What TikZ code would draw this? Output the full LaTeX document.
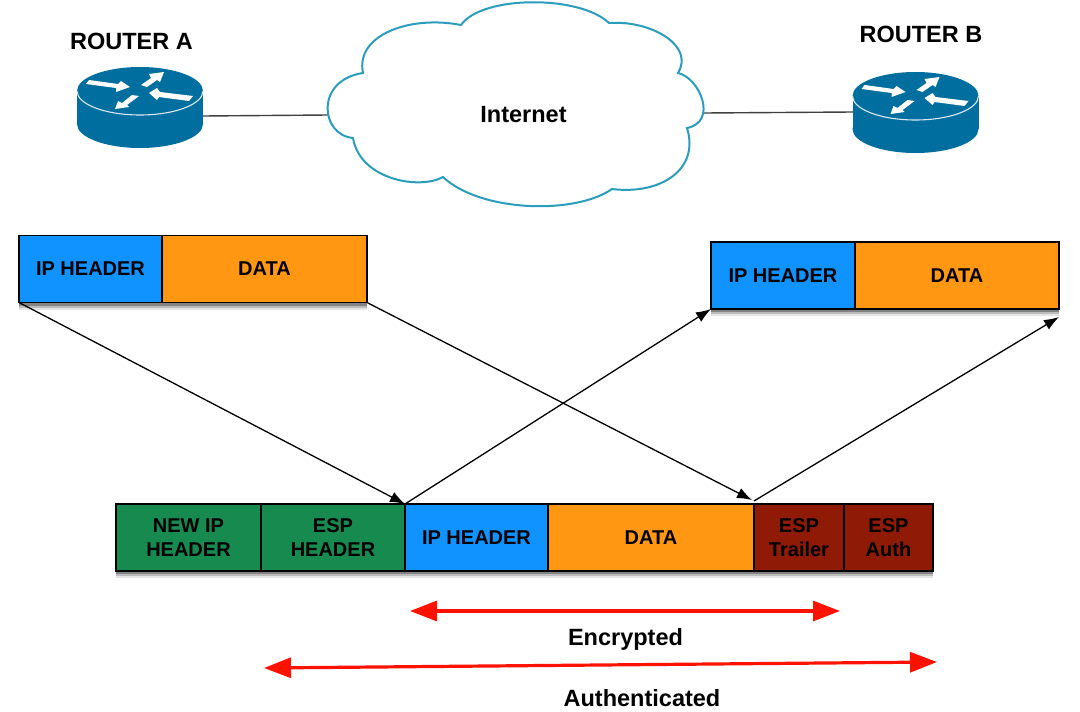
\documentclass[tikz,border=0pt]{standalone}
\usepackage{fontspec}
\setmainfont{Liberation Sans}
\usepackage{xcolor}
\usetikzlibrary{arrows.meta, shadows}

\definecolor{ipblue}{HTML}{1093FF}
\definecolor{dataorange}{HTML}{FF9712}
\definecolor{espgreen}{HTML}{178A50}
\definecolor{espred}{HTML}{8F1A06}
\definecolor{routerblue}{HTML}{006F9F}
\definecolor{cloudline}{HTML}{2A9DBD}
\definecolor{linkgray}{HTML}{404040}

\tikzset{
    pktbox/.style={draw=black, line width=1.8pt, minimum height=67pt, inner sep=0pt, outer sep=0pt,
        align=center, font=\fontsize{20}{24}\selectfont\bfseries,
        drop shadow={shadow xshift=0pt, shadow yshift=-7pt, opacity=0.10, fill=black},
        drop shadow={shadow xshift=0pt, shadow yshift=-5pt, opacity=0.18, fill=black},
        drop shadow={shadow xshift=0pt, shadow yshift=-3pt, opacity=0.30, fill=black}},
    label/.style={font=\fontsize{23.5}{27}\selectfont\bfseries, inner sep=0pt},
    packetline/.style={draw=black, line width=1.3pt, -{Latex[length=15pt,width=11pt]}},
    spanline/.style={draw=red!85!orange, line width=3.2pt, {Triangle[length=27pt,width=20pt]}-{Triangle[length=27pt,width=20pt]}},
    link/.style={draw=linkgray, line width=1.4pt},
    router/.pic={
        \fill[routerblue] (-63,0) rectangle (63,33);
        \fill[routerblue] (0,33) ellipse [x radius=63pt, y radius=24pt];
        \fill[routerblue] (0,0) ellipse [x radius=63pt, y radius=24pt];
        \draw[white!85!routerblue, line width=1.1pt] (-63,0) arc [start angle=180, end angle=360, x radius=63pt, y radius=24pt];
        \fill[white] (-54,-7) -- (-51,-11) -- (-22,-7) -- (-19,-10) -- (-10,-4) -- (-24,1) -- (-24,-3) -- cycle;
        \fill[white] (1,-6) -- (11,-13) -- (9,-17) -- (24,-19) -- (20,-9) -- (17,-11) -- (7,-4) -- cycle;
        \fill[white] (9,2) -- (17,-3) -- (20,1) -- (53,5) -- (49,10) -- (19,6) -- (17,9) -- cycle;
        \fill[white] (-25,18) -- (-22,10) -- (-18,12) -- (-8,4) -- (-1,5) -- (-13,14) -- (-11,16) -- cycle;
    }
}

\begin{document}
\begin{tikzpicture}[x=1pt, y=-1pt]
    \useasboundingbox (0,0) rectangle (1080,712);

    \coordinate (routerA) at (140,91);
    \coordinate (routerB) at (915.5,96);
    \coordinate (portA) at (203,116);
    \coordinate (portB) at (853,112);
    \coordinate (cloudW) at (328,115);
    \coordinate (cloudE) at (704,113);

    \draw[link] (portA) -- (cloudW);
    \draw[link] (cloudE) -- (portB);

    \pic at (routerA) {router};
    \pic at (routerB) {router};

    \draw[cloudline, fill=white, line width=2pt] (461,25)
        .. controls (482,-5) and (580,-5) .. (609,23)
        .. controls (650,20) and (695,45) .. (678,73)
        .. controls (700,78) and (718,122) .. (687,128)
        .. controls (700,170) and (660,195) .. (612,189)
        .. controls (575,215) and (480,212) .. (443,177)
        .. controls (420,190) and (360,180) .. (353,138)
        .. controls (320,135) and (315,80) .. (363,73)
        .. controls (355,35) and (410,15) .. cycle;

    \node[label] (titleA) at (131.5,41) {ROUTER A};
    \node[label] (titleB) at (921,34) {ROUTER B};
    \node[label] (internet) at (523.5,115) {Internet};

    \node[pktbox, fill=ipblue, minimum width=143pt] (ipA) at (90.5,269) {IP HEADER};
    \node[pktbox, fill=dataorange, minimum width=205pt] (dataA) at (264.5,269) {DATA};

    \node[pktbox, fill=ipblue, minimum width=144pt] (ipB) at (783,275.5) {IP HEADER};
    \node[pktbox, fill=dataorange, minimum width=204pt] (dataB) at (957,275.5) {DATA};

    \node[pktbox, fill=espgreen, minimum width=145pt] (newip) at (188.5,537.5) {NEW IP\\HEADER};
    \node[pktbox, fill=espgreen, minimum width=144pt] (esphdr) at (333,537.5) {ESP\\HEADER};
    \node[pktbox, fill=ipblue, minimum width=143pt] (ipC) at (476.5,537.5) {IP HEADER};
    \node[pktbox, fill=dataorange, minimum width=206pt] (dataC) at (651,537.5) {DATA};
    \node[pktbox, fill=espred, minimum width=90pt] (trailer) at (799,537.5) {ESP\\Trailer};
    \node[pktbox, fill=espred, minimum width=89pt] (auth) at (888.5,537.5) {ESP\\Auth};

    \coordinate (tipD) at (1059,317);
    \coordinate (tipC) at (752,500);
    \coordinate (tailD) at (754,501);

    \draw[packetline] (ipA.south west) -- (esphdr.north east);
    \draw[packetline] (dataA.south east) -- (tipC);
    \draw[packetline] (ipC.north west) -- (ipB.south west);
    \draw[packetline] (tailD) -- (tipD);

    \coordinate (encL) at (410,611);
    \coordinate (encR) at (840,611);
    \coordinate (authL) at (264,668);
    \coordinate (authR) at (937,662);

    \draw[spanline] (encL) -- (encR);
    \draw[spanline] (authL) -- (authR);

    \node[label] (encrypted) at (625.5,639) {Encrypted};
    \node[label] (authenticated) at (642,698) {Authenticated};
\end{tikzpicture}
\end{document}
